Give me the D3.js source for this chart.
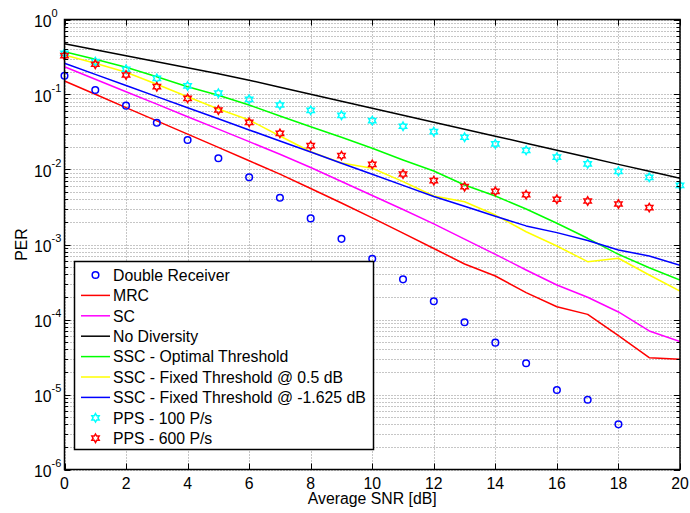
<!DOCTYPE html>
<html>
<head>
<meta charset="utf-8">
<script src="https://cdn.jsdelivr.net/npm/d3@7"></script>
<style>
  html, body { margin: 0; padding: 0; background: #fff; }
  svg { display: block; font-family: "Liberation Sans", Arial, Helvetica, sans-serif; }
</style>
</head>
<body>
<svg id="chart" width="690" height="513"></svg>
<script>
// Average SNR (dB) sample points
const snrDb = [0,1,2,3,4,5,6,7,8,9,10,11,12,13,14,15,16,17,18,19,20];

// Packet error rate for each receiver scheme
const doubleReceiver = [0.178,0.115,0.071,0.042,0.0247,0.0141,0.00787,0.00421,0.00223,0.00119,0.000647,0.000343,0.000175,9.18e-5,4.91e-5,2.61e-5,1.15e-5,8.5e-6,4.0e-6];
const mrc = [0.1514,0.1006,0.0669,0.0445,0.0296,0.0197,0.01306,0.00869,0.00558,0.00357,0.00226,0.00142,0.000885,0.00055,0.00038,0.000228,0.000148,0.000117,6.08e-5,3.1e-5,2.94e-5];
const sc = [0.2349,0.16,0.109,0.0743,0.0506,0.0345,0.0235,0.016,0.01064,0.00692,0.0045,0.00293,0.00188,0.00118,0.00074,0.000457,0.000288,0.000198,0.000126,7.03e-5,5.09e-5];
const noDiversity = [0.475,0.395,0.329,0.274,0.228,0.189,0.155,0.125,0.101,0.0813,0.0655,0.0528,0.0427,0.0344,0.0278,0.0224,0.0181,0.0146,0.0117,0.00948,0.00764];
const sscOptimal = [0.372,0.2946,0.2305,0.1727,0.127,0.0975,0.0724,0.0517,0.0372,0.0269,0.0192,0.0134,0.00955,0.00621,0.00443,0.00297,0.00192,0.00121,0.00074,0.00049,0.000336];
const sscFixed05 = [0.3365,0.2606,0.1977,0.1368,0.0935,0.0641,0.0457,0.028,0.01726,0.01222,0.01038,0.00688,0.00443,0.00372,0.00247,0.00148,0.000955,0.00059,0.000655,0.000392,0.00024];
const sscFixedM1625 = [0.2606,0.1854,0.1318,0.0938,0.0667,0.0474,0.0337,0.024,0.0171,0.01213,0.00863,0.00614,0.00437,0.00323,0.00238,0.00177,0.00144,0.00113,0.000845,0.000703,0.000528];
const pps100 = [0.355,0.274,0.217,0.164,0.130,0.104,0.0863,0.0724,0.0615,0.0528,0.0448,0.0377,0.0319,0.0269,0.0219,0.018,0.0146,0.0119,0.00946,0.00787,0.00615];
const pps600 = [0.329,0.253,0.182,0.127,0.0889,0.0621,0.0426,0.0303,0.0208,0.0153,0.0117,0.00871,0.0071,0.0059,0.00512,0.00461,0.00401,0.0038,0.00347,0.0031];

// Axis ticks
const xTicks = [0,2,4,6,8,10,12,14,16,18,20];
const yExponents = [0,-1,-2,-3,-4,-5,-6];

// Series definitions (draw order = legend order)
const series = [
  { name: "Double Receiver", values: doubleReceiver, color: "#0000ff", kind: "circle" },
  { name: "MRC", values: mrc, color: "#ff0000", kind: "line" },
  { name: "SC", values: sc, color: "#ff00ff", kind: "line" },
  { name: "No Diversity", values: noDiversity, color: "#000000", kind: "line" },
  { name: "SSC - Optimal Threshold", values: sscOptimal, color: "#00ff00", kind: "line" },
  { name: "SSC - Fixed Threshold @ 0.5 dB", values: sscFixed05, color: "#ffff00", kind: "line" },
  { name: "SSC - Fixed Threshold @ -1.625 dB", values: sscFixedM1625, color: "#0000ff", kind: "line" },
  { name: "PPS - 100 P/s", values: pps100, color: "#00ffff", kind: "hexagram" },
  { name: "PPS - 600 P/s", values: pps600, color: "#ff0000", kind: "hexagram" }
];

const svg = d3.select("#chart");
const margin = { left: 64.5, top: 19.5, right: 10, bottom: 43.5 };
const W = 690, H = 513;
const x0 = margin.left, x1 = W - margin.right;   // 64.5 .. 680
const y0 = margin.top, y1 = H - margin.bottom;    // 19.5 .. 469.5

const x = d3.scaleLinear().domain([0, 20]).range([x0, x1]);
const y = d3.scaleLog().domain([1e-6, 1]).range([y1, y0]);

// Grid: dotted at major x ticks and at every log minor tick on y
const grid = svg.append("g").attr("stroke", "#8c8c8c").attr("stroke-width", 1)
  .attr("stroke-dasharray", "1,2").attr("fill", "none");
xTicks.forEach(t => {
  grid.append("line").attr("x1", Math.round(x(t)) + 0.5).attr("x2", Math.round(x(t)) + 0.5)
    .attr("y1", y0).attr("y2", y1);
});
const yAllTicks = y.ticks(); // 1..9 x decades
yAllTicks.forEach(t => {
  const yy = Math.round(y(t)) + 0.5;
  grid.append("line").attr("x1", x0).attr("x2", x1).attr("y1", yy).attr("y2", yy);
});

// Clip data to the plot box
svg.append("clipPath").attr("id", "plotclip").append("rect")
  .attr("x", x0).attr("y", y0).attr("width", x1 - x0).attr("height", y1 - y0);
const plot = svg.append("g").attr("clip-path", "url(#plotclip)");

const line = d3.line().x((d, i) => x(snrDb[i])).y(d => y(d));

// Six-pointed star outline (hexagram marker)
function hexagramPath(R) {
  const r = R / Math.sqrt(3);
  const pts = [];
  for (let k = 0; k < 12; k++) {
    const a = -Math.PI / 2 + k * Math.PI / 6;
    const rad = (k % 2 === 0) ? R : r;
    pts.push([rad * Math.cos(a), rad * Math.sin(a)]);
  }
  return "M" + pts.map(p => p[0].toFixed(2) + "," + p[1].toFixed(2)).join("L") + "Z";
}
const hexPath = hexagramPath(4.2);

function drawMarker(g, kind, color, cx, cy) {
  if (kind === "circle") {
    g.append("circle").attr("cx", cx).attr("cy", cy).attr("r", 3.3)
      .attr("fill", "none").attr("stroke", color).attr("stroke-width", 1.5);
  } else if (kind === "hexagram") {
    g.append("path").attr("d", hexPath).attr("transform", `translate(${cx},${cy})`)
      .attr("fill", "none").attr("stroke", color).attr("stroke-width", 1.5)
      .attr("stroke-linejoin", "miter");
  }
}

series.forEach(s => {
  if (s.kind === "line") {
    plot.append("path").datum(s.values).attr("d", line)
      .attr("fill", "none").attr("stroke", s.color).attr("stroke-width", 1.5)
      .attr("stroke-linejoin", "round");
  } else {
    const g = svg.append("g");
    s.values.forEach((v, i) => drawMarker(g, s.kind, s.color, x(snrDb[i]), y(v)));
  }
});

// Axes box and inward ticks on all four sides
const axes = svg.append("g").attr("stroke", "#000").attr("fill", "none");
xTicks.forEach(t => {
  const xx = Math.round(x(t)) + 0.5;
  axes.append("line").attr("x1", xx).attr("x2", xx).attr("y1", y1).attr("y2", y1 - 6);
  axes.append("line").attr("x1", xx).attr("x2", xx).attr("y1", y0).attr("y2", y0 + 6);
});
yAllTicks.forEach(t => {
  const yy = Math.round(y(t)) + 0.5;
  const major = Math.abs(Math.log10(t) - Math.round(Math.log10(t))) < 1e-9;
  const len = major ? 6 : 3.5;
  axes.append("line").attr("x1", x0).attr("x2", x0 + len).attr("y1", yy).attr("y2", yy);
  axes.append("line").attr("x1", x1).attr("x2", x1 - len).attr("y1", yy).attr("y2", yy);
});
axes.append("rect").attr("x", x0).attr("y", y0).attr("width", x1 - x0).attr("height", y1 - y0)
  .attr("stroke-width", 1.5);

// Tick labels
const fs = 15.8;
const xLab = svg.append("g").attr("font-size", fs).attr("text-anchor", "middle").attr("fill", "#000");
xTicks.forEach(t => {
  xLab.append("text").attr("x", x(t)).attr("y", y1 + 19).text(t);
});
const yLab = svg.append("g").attr("fill", "#000");
yExponents.forEach(e => {
  const txt = yLab.append("text").attr("x", 34).attr("y", y(Math.pow(10, e)) + 7.5)
    .attr("font-size", fs);
  txt.append("tspan").text("10");
  txt.append("tspan").attr("dy", -10.5).attr("font-size", 11).text(e);
});

// Axis titles
svg.append("text").attr("x", (x0 + x1) / 2).attr("y", y1 + 34.5)
  .attr("text-anchor", "middle").attr("font-size", fs).text("Average SNR [dB]");
svg.append("text").attr("transform", `translate(27,${(y0 + y1) / 2}) rotate(-90)`)
  .attr("text-anchor", "middle").attr("font-size", fs).text("PER");

// Legend
const lg = { x: 74.5, y: 261.5, w: 299, h: 188, row0: 275, dy: 20.4 };
const legend = svg.append("g");
legend.append("rect").attr("x", lg.x).attr("y", lg.y).attr("width", lg.w).attr("height", lg.h)
  .attr("fill", "#fff").attr("stroke", "#000").attr("stroke-width", 1.5);
series.forEach((s, i) => {
  const cy = lg.row0 + i * lg.dy;
  if (s.kind === "line") {
    legend.append("line").attr("x1", 81).attr("x2", 110).attr("y1", cy).attr("y2", cy)
      .attr("stroke", s.color).attr("stroke-width", 1.5);
  } else {
    drawMarker(legend, s.kind, s.color, 95.5, cy);
  }
  legend.append("text").attr("x", 113).attr("y", cy + 5.7).attr("font-size", fs)
    .attr("fill", "#000").text(s.name);
});
</script>
</body>
</html>
